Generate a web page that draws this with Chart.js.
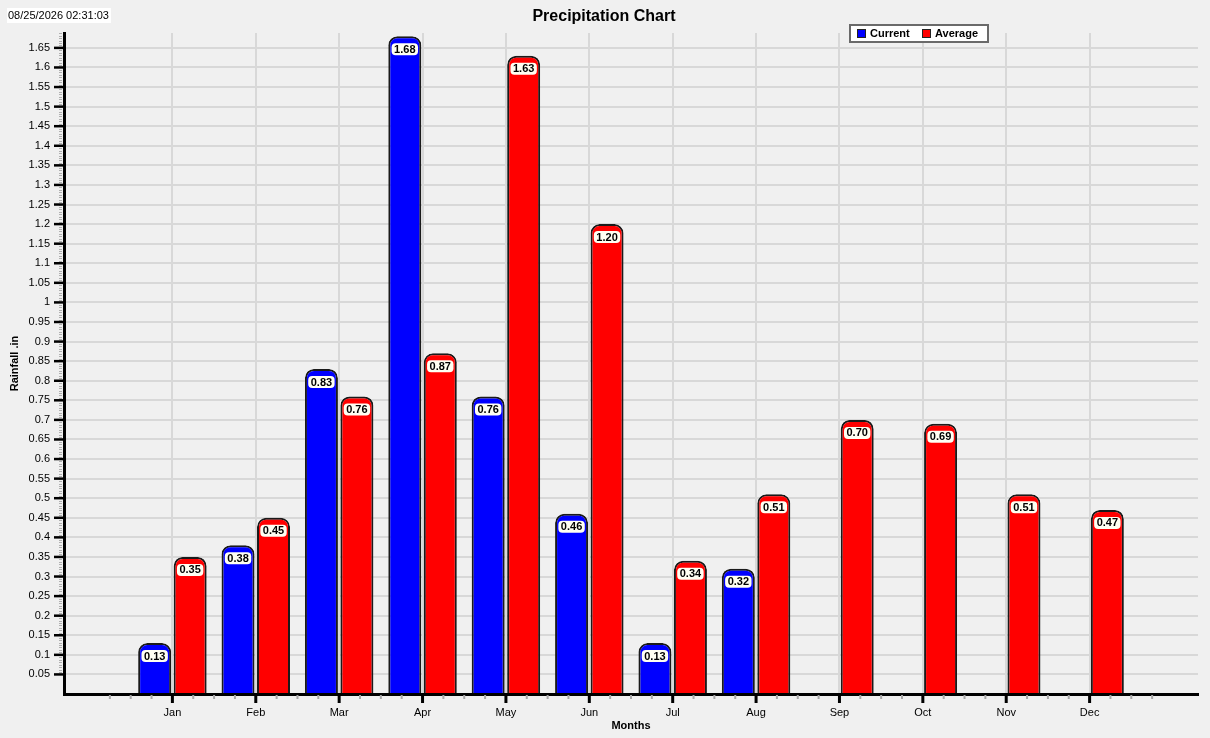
<!DOCTYPE html>
<html>
<head>
<meta charset="utf-8">
<title>Precipitation Chart</title>
<script src="https://cdn.jsdelivr.net/npm/chart.js@4.4.1/dist/chart.umd.min.js"></script>
<style>
  html, body { margin: 0; padding: 0; background: #f0f0f0; }
  #wrap { position: relative; width: 1210px; height: 738px; }
</style>
</head>
<body>
<div id="wrap"><canvas id="precipChart"></canvas></div>
<script>
// Chart data
const months = ['Jan', 'Feb', 'Mar', 'Apr', 'May', 'Jun', 'Jul', 'Aug', 'Sep', 'Oct', 'Nov', 'Dec'];
const currentRain = [0.13, 0.38, 0.83, 1.68, 0.76, 0.46, 0.13, 0.32];
const averageRain = [0.35, 0.45, 0.76, 0.87, 1.63, 1.20, 0.34, 0.51, 0.70, 0.69, 0.51, 0.47];
const yTickStep = 0.05;
const stampText = '08/25/2026 02:31:03';

const FONT = '"Liberation Sans", Arial, sans-serif';
Chart.defaults.font.family = FONT;
Chart.defaults.color = '#000';

const isMonth = v => Math.abs(v - Math.round(v)) < 1e-6 && v > -0.5 && v < months.length - 0.5;
const toPoints = arr => arr.map((v, i) => ({ x: i, y: v }));

const chartDecor = {
    id: 'chartDecor',
    beforeDraw(chart) {
        const ctx = chart.ctx;
        ctx.save();
        ctx.fillStyle = '#f0f0f0';
        ctx.fillRect(0, 0, chart.width, chart.height);
        ctx.restore();
    },
    afterDatasetsDraw(chart) {
        // value boxes near the top of every bar
        const ctx = chart.ctx;
        ctx.save();
        ctx.font = 'bold 11px ' + FONT;
        ctx.textAlign = 'center';
        ctx.textBaseline = 'middle';
        chart.data.datasets.forEach((ds, di) => {
            chart.getDatasetMeta(di).data.forEach((bar, i) => {
                const txt = ds.data[i].y.toFixed(2);
                const w = ctx.measureText(txt).width + 5;
                const h = 12;
                const top = bar.y + 7;
                ctx.fillStyle = '#fffff2';
                ctx.beginPath();
                ctx.roundRect(bar.x - w / 2, top, w, h, 4);
                ctx.fill();
                ctx.fillStyle = '#000';
                ctx.fillText(txt, bar.x, top + h / 2 + 0.5);
            });
        });
        ctx.restore();
    },
    afterDraw(chart) {
        const ctx = chart.ctx;
        const x = chart.scales.x, y = chart.scales.y;
        const area = chart.chartArea;
        ctx.save();

        // y tick marks
        for (let v = yTickStep; v < y.max; v += yTickStep / 8) {
            const py = Math.round(y.getPixelForValue(v)) + 0.5;
            ctx.strokeStyle = '#b0b0b0';
            ctx.lineWidth = 1;
            ctx.beginPath();
            ctx.moveTo(59, py);
            ctx.lineTo(62, py);
            ctx.stroke();
        }
        for (let k = 1; k * yTickStep <= y.max; k++) {
            const py = y.getPixelForValue(k * yTickStep);
            ctx.strokeStyle = '#000';
            ctx.lineWidth = 2.5;
            ctx.beginPath();
            ctx.moveTo(54, py);
            ctx.lineTo(63, py);
            ctx.stroke();
        }

        // x tick marks (months plus quarter steps)
        for (let q = -3; q <= months.length * 4 - 1; q++) {
            const px = x.getPixelForValue(q / 4);
            ctx.beginPath();
            if (q % 4 === 0) {
                ctx.strokeStyle = '#000';
                ctx.lineWidth = 3;
                ctx.moveTo(px, area.bottom);
                ctx.lineTo(px, area.bottom + 9);
            } else {
                ctx.strokeStyle = '#a8a8a8';
                ctx.lineWidth = 2;
                ctx.moveTo(px, area.bottom + 1);
                ctx.lineTo(px, area.bottom + 5);
            }
            ctx.stroke();
        }

        // title
        ctx.fillStyle = '#000';
        ctx.font = 'bold 16px ' + FONT;
        ctx.textAlign = 'center';
        ctx.textBaseline = 'middle';
        ctx.fillText('Precipitation Chart', 604, 17);

        // timestamp
        ctx.font = '11px ' + FONT;
        ctx.textAlign = 'left';
        const sw = ctx.measureText(stampText).width;
        ctx.fillStyle = '#fff';
        ctx.fillRect(7, 8, sw + 3, 15);
        ctx.fillStyle = '#000';
        ctx.fillText(stampText, 8, 16);

        // legend
        ctx.fillStyle = '#fff';
        ctx.fillRect(850, 25, 138, 17);
        ctx.strokeStyle = '#6a6a6a';
        ctx.lineWidth = 2;
        ctx.strokeRect(850, 25, 138, 17);
        ctx.font = 'bold 11px ' + FONT;
        const legendX = [857, 922];
        chart.data.datasets.forEach((ds, i) => {
            const lx = legendX[i];
            ctx.fillStyle = ds.backgroundColor;
            ctx.fillRect(lx, 29.5, 8, 8);
            ctx.strokeStyle = '#222';
            ctx.lineWidth = 1;
            ctx.strokeRect(lx + 0.5, 29.5, 8, 8);
            ctx.fillStyle = '#000';
            ctx.fillText(ds.label, lx + 13, 34);
        });
        ctx.restore();
    }
};

new Chart(document.getElementById('precipChart'), {
    type: 'bar',
    data: {
        datasets: [{
            label: 'Current',
            data: toPoints(currentRain),
            backgroundColor: '#0000ff',
            borderColor: '#1a1a1a',
            borderWidth: 2,
            borderSkipped: 'bottom',
            borderRadius: { topLeft: 9, topRight: 9 }
        }, {
            label: 'Average',
            data: toPoints(averageRain),
            backgroundColor: '#ff0000',
            borderColor: '#1a1a1a',
            borderWidth: 2,
            borderSkipped: 'bottom',
            borderRadius: { topLeft: 9, topRight: 9 }
        }]
    },
    options: {
        responsive: true,
        maintainAspectRatio: false,
        animation: false,
        events: [],
        categoryPercentage: 0.851,
        barPercentage: 0.93,
        layout: { padding: { top: 33, right: 12, left: 0, bottom: 0 } },
        plugins: {
            legend: { display: false },
            title: { display: false },
            tooltip: { enabled: false }
        },
        scales: {
            x: {
                type: 'linear',
                min: -1.3,
                max: 12.3,
                offset: false,
                afterFit: s => { s.height = 44; },
                grid: {
                    offset: false,
                    drawTicks: false,
                    lineWidth: 2,
                    color: c => isMonth(c.tick.value) ? '#d8d8d8' : 'rgba(0,0,0,0)'
                },
                border: { color: '#000', width: 3 },
                ticks: {
                    stepSize: 1,
                    includeBounds: false,
                    autoSkip: false,
                    maxRotation: 0,
                    padding: 12,
                    font: { size: 11 },
                    callback: v => isMonth(v) ? months[Math.round(v)] : ''
                },
                title: {
                    display: true,
                    text: 'Months',
                    font: { size: 11, weight: 'bold' },
                    padding: { top: 0, bottom: 5.4 }
                }
            },
            y: {
                min: 0,
                max: 1.688,
                afterFit: s => { s.width = 64; },
                grid: {
                    drawTicks: false,
                    lineWidth: 2,
                    color: c => c.tick.value > 0 ? '#d8d8d8' : 'rgba(0,0,0,0)'
                },
                border: { color: '#000', width: 3 },
                ticks: {
                    stepSize: yTickStep,
                    includeBounds: false,
                    autoSkip: false,
                    padding: 14,
                    font: { size: 11 },
                    callback: v => v <= 0 ? '' : String(+v.toFixed(2))
                },
                title: {
                    display: true,
                    text: 'Rainfall .in',
                    font: { size: 11, weight: 'bold' },
                    padding: { top: 8.4, bottom: 0 }
                }
            }
        }
    },
    plugins: [chartDecor]
});
</script>
</body>
</html>
